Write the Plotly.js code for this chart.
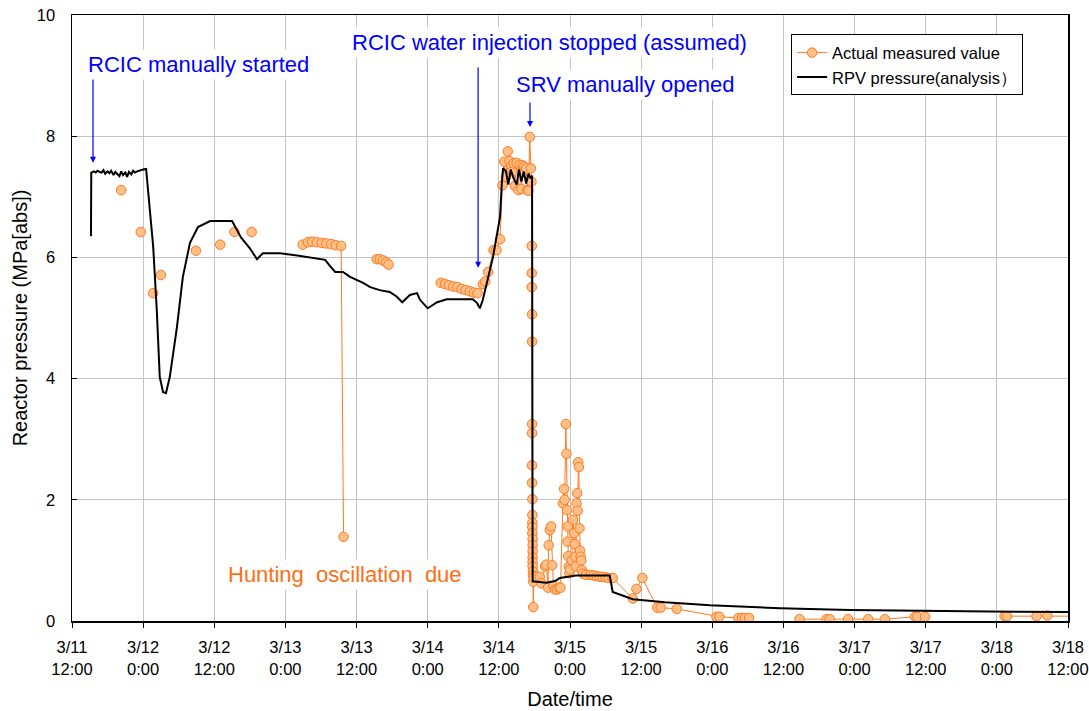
<!DOCTYPE html>
<html>
<head>
<meta charset="utf-8">
<script src="https://cdn.plot.ly/plotly-3.0.1.min.js"></script>
<style>html,body{margin:0;padding:0;background:#fff;}#chart{width:1089px;height:711px;}</style>
</head>
<body>
<div id="chart"></div>
<script>
// Elapsed hours since 3/11 12:00
const tickLabels = ["3/11<br>12:00","3/12<br>0:00","3/12<br>12:00","3/13<br>0:00","3/13<br>12:00","3/14<br>0:00","3/14<br>12:00","3/15<br>0:00","3/15<br>12:00","3/16<br>0:00","3/16<br>12:00","3/17<br>0:00","3/17<br>12:00","3/18<br>0:00","3/18<br>12:00"];

const rpvHours = [3.2,3.25,3.7,4.0,4.3,4.6,5.0,5.3,5.6,6.0,6.3,6.6,7.0,7.3,7.6,8.0,8.3,8.6,9.0,9.3,9.6,10.0,10.3,10.6,11.0,11.5,12.0,12.5,13.0,13.7,14.3,14.8,15.35,15.85,16.5,17.7,18.7,19.9,21.25,23.3,27.0,27.8,28.5,30.0,31.2,32.2,35.1,38.0,42.7,43.5,44.4,45.7,46.9,49.1,50.3,51.9,53.6,54.8,55.7,57.0,58.2,58.7,60.0,61.6,63.2,67.6,68.3,68.8,69.3,71.0,72.2,72.5,72.7,73.2,73.6,74.0,74.5,75.0,75.4,75.8,76.2,76.6,77.0,77.4,77.6,77.7,78.0,80.0,81.5,82.3,84.0,85.0,90.7,91.2,94.6,100.0,107.6,119.4,131.2,143.0,154.8,168.0];
const rpvPressure = [6.35,7.40,7.42,7.40,7.43,7.41,7.40,7.44,7.38,7.42,7.39,7.43,7.36,7.41,7.38,7.34,7.42,7.36,7.40,7.33,7.41,7.37,7.43,7.40,7.42,7.44,7.45,7.46,6.95,6.17,5.13,4.03,3.78,3.76,4.03,4.85,5.68,6.24,6.50,6.60,6.60,6.45,6.33,6.15,5.97,6.07,6.07,6.03,5.96,5.86,5.76,5.76,5.68,5.58,5.51,5.46,5.43,5.35,5.26,5.38,5.41,5.30,5.16,5.26,5.31,5.31,5.25,5.16,5.30,6.00,6.67,7.23,7.47,7.42,7.20,7.45,7.30,7.20,7.45,7.25,7.42,7.22,7.38,7.30,7.35,0.65,0.65,0.63,0.66,0.71,0.73,0.75,0.75,0.48,0.36,0.31,0.26,0.21,0.18,0.165,0.155,0.15];

const measHours = [8.3,null,11.6,null,13.7,null,15.0,null,20.9,null,25.0,null,27.4,null,30.3,null,
  38.9,39.8,40.5,41.3,42.1,42.9,43.7,44.5,45.4,45.8,null,
  51.4,51.9,52.5,53.0,53.4,null,
  62.2,62.9,63.6,64.3,65.0,65.7,66.4,67.1,67.8,68.4,69.3,69.7,70.2,71.1,71.6,72.2,72.6,72.9,73.2,73.5,73.8,74.1,74.3,74.5,74.7,75.0,75.3,75.5,75.8,76.0,76.3,76.6,76.8,77.0,77.2,77.4,77.5,
  77.55,77.55,77.55,77.6,77.6,77.6,77.6,77.6,77.6,77.65,77.65,77.65,77.65,77.65,77.7,77.7,77.7,77.7,77.7,77.7,77.75,77.75,77.8,77.8,
  77.9,78.4,78.9,79.2,79.8,80.0,80.3,80.4,80.6,80.8,81.0,81.2,81.5,81.8,82.2,82.4,82.8,83.0,83.1,83.3,83.4,83.5,83.6,83.6,83.7,83.8,83.9,84.0,84.3,84.5,84.7,84.8,84.9,85.0,85.1,85.2,85.3,85.4,85.5,85.6,85.7,85.8,85.9,86.0,86.2,86.7,87.5,88.0,88.5,89.0,89.5,90.0,90.5,91.2,
  94.6,95.2,96.2,98.7,99.3,102.0,108.7,109.2,112.4,113.0,113.5,114.2,null,
  122.7,127.3,127.8,130.9,134.3,137.1,142.2,142.6,143.9,null,
  157.3,157.7,162.7,164.5,170.0];
const measPressure = [7.11,null,6.42,null,5.41,null,5.71,null,6.11,null,6.21,null,6.42,null,6.42,null,
  6.21,6.25,6.26,6.25,6.24,6.23,6.22,6.20,6.19,1.39,null,
  5.97,5.97,5.95,5.92,5.88,null,
  5.58,5.56,5.54,5.52,5.51,5.48,5.46,5.44,5.42,5.41,5.56,5.60,5.76,6.12,6.12,6.30,7.19,7.58,7.33,7.75,7.59,7.51,7.42,7.55,7.18,7.56,7.11,7.53,7.13,7.52,7.50,7.47,7.11,7.10,7.99,7.47,7.25,
  6.19,5.74,5.51,5.06,4.61,3.25,3.10,2.57,2.28,2.01,1.75,1.62,1.55,1.45,1.35,1.25,1.15,1.05,0.97,0.90,0.82,0.75,0.65,0.23,
  0.72,0.73,0.73,0.62,0.90,0.93,0.55,1.25,1.50,1.56,0.92,0.58,0.52,0.52,0.55,0.55,1.94,2.18,2.00,3.25,2.76,1.83,1.56,1.31,1.07,0.90,0.79,0.85,1.00,1.67,1.45,1.27,1.06,0.90,1.94,2.11,1.82,2.62,2.54,1.53,1.16,1.06,1.00,0.84,0.78,0.76,0.76,0.75,0.74,0.73,0.73,0.72,0.71,0.71,
  0.37,0.53,0.71,0.22,0.22,0.20,0.07,0.07,0.05,0.05,0.05,0.05,null,
  0.03,0.03,0.03,0.03,0.03,0.03,0.07,0.07,0.07,null,
  0.08,0.08,0.08,0.09,0.08];

const seriesNames = ["Actual measured value", "RPV pressure(analysis）"];

const FONT = 'Arial, "Liberation Sans", sans-serif';
const ORANGE = 'rgb(255,120,30)';
const BLUE = '#0000ff';

const traces = [
  {
    x: measHours, y: measPressure, name: seriesNames[0],
    type: 'scatter', mode: 'lines+markers', connectgaps: false,
    line: {color: ORANGE, width: 1},
    marker: {symbol: 'circle', size: 9.5, color: 'rgb(255,192,135)', line: {color: ORANGE, width: 1}},
    cliponaxis: true
  },
  {
    x: rpvHours, y: rpvPressure, name: seriesNames[1],
    type: 'scatter', mode: 'lines',
    line: {color: '#000000', width: 2}
  }
];

const arrow = (x, yTip, yTail) => ({
  x: x, y: yTip, ax: x, ay: yTail, xref: 'x', yref: 'y', axref: 'x', ayref: 'y',
  text: '', showarrow: true, arrowhead: 2, arrowsize: 1, arrowwidth: 1.2, arrowcolor: BLUE
});
const label = (text, x, y, color) => ({
  x: x, y: y, xref: 'x', yref: 'y', text: text, showarrow: false,
  font: {family: FONT, size: 22, color: color}, bgcolor: '#ffffff', borderpad: 2,
  xanchor: 'center', yanchor: 'middle'
});

const layout = {
  width: 1089, height: 711,
  margin: {l: 72, r: 21, t: 15, b: 90},
  paper_bgcolor: '#ffffff', plot_bgcolor: '#ffffff',
  font: {family: FONT, size: 16.5, color: '#000'},
  showlegend: true,
  legend: {
    x: 0.722, y: 0.968, xanchor: 'left', yanchor: 'top',
    bgcolor: '#ffffff', bordercolor: '#000000', borderwidth: 1,
    font: {family: FONT, size: 16.5, color: '#000'},
    tracegroupgap: 0
  },
  xaxis: {
    range: [0, 168], tickmode: 'array',
    tickvals: tickLabels.map((_, i) => i * 12), ticktext: tickLabels,
    ticks: 'outside', ticklen: 5, tickcolor: '#000', tickwidth: 1,
    showline: true, linecolor: '#000', linewidth: 1.5, mirror: true,
    showgrid: true, gridcolor: '#c4c4c4', gridwidth: 1, zeroline: false,
    tickfont: {family: FONT, size: 16.5, color: '#000'},
    ticklabelstandoff: 6,
    title: {text: 'Date/time', font: {family: FONT, size: 20, color: '#000'}, standoff: 15}
  },
  yaxis: {
    range: [0, 10], dtick: 2, tick0: 0,
    ticks: 'inside', ticklen: 5, tickcolor: '#000', tickwidth: 1,
    showline: true, linecolor: '#000', linewidth: 1.5, mirror: true,
    showgrid: true, gridcolor: '#c4c4c4', gridwidth: 1, zeroline: false,
    tickfont: {family: FONT, size: 16.5, color: '#000'},
    ticklabelstandoff: 12,
    title: {text: 'Reactor pressure (MPa[abs])', font: {family: FONT, size: 20, color: '#000'}, standoff: 4}
  },
  annotations: [
    arrow(3.54, 7.56, 8.98),
    arrow(68.5, 5.83, 9.16),
    arrow(77.25, 8.15, 8.58),
    label('RCIC manually started', 21.3, 9.19, BLUE),
    label('RCIC water injection stopped (assumed)', 80.5, 9.55, BLUE),
    label('SRV manually opened', 93.4, 8.86, BLUE),
    label('Hunting\u00a0 oscillation\u00a0 due', 46.0, 0.76, 'rgb(255,110,20)')
  ]
};

Plotly.newPlot('chart', traces, layout, {displayModeBar: false, staticPlot: true});
</script>
</body>
</html>
